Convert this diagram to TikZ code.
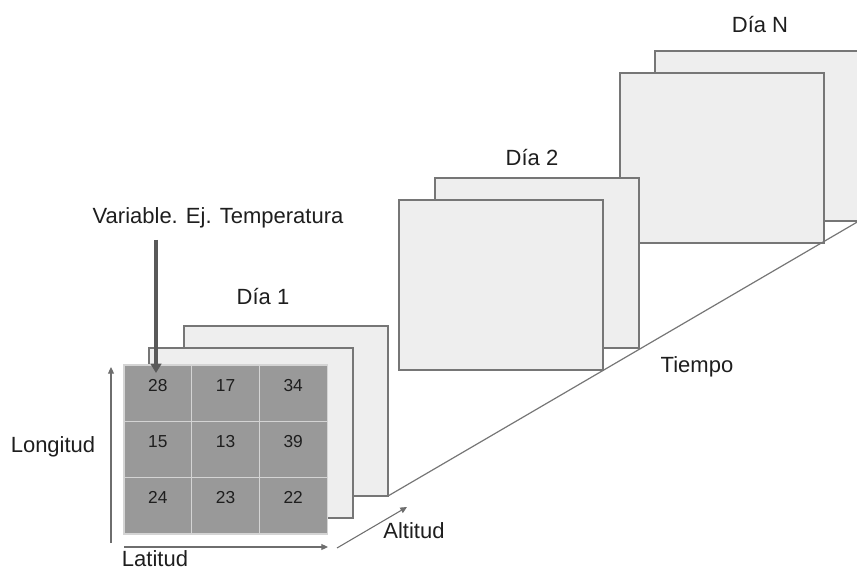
\documentclass[tikz,border=0pt]{standalone}
\usepackage{fontspec}
\setmainfont{Liberation Sans}
\usetikzlibrary{arrows.meta}
\definecolor{panefill}{HTML}{EEEEEE}
\definecolor{edgecol}{HTML}{767676}
\definecolor{cellfill}{HTML}{999999}
\definecolor{cellline}{HTML}{D4D4D4}
\definecolor{arrowdark}{HTML}{595959}
\definecolor{axiscol}{HTML}{6E6E6E}
\definecolor{txt}{HTML}{1E1E1E}
\begin{document}
\begin{tikzpicture}[x=0.75pt,y=-0.75pt,
  pane/.style={draw=edgecol, fill=panefill, line width=0.9pt, minimum width=153pt, minimum height=127.5pt, inner sep=0pt, outer sep=0pt, anchor=north west},
  cell/.style={draw=cellline, fill=cellfill, line width=0.8pt, minimum width=50.8pt, minimum height=42.2pt, inner sep=0pt, outer sep=0pt, anchor=north west, font=\fontsize{13}{15}\selectfont, text=txt, text height=8pt, text depth=10.8pt},
  lab/.style={anchor=base, inner sep=0pt, font=\fontsize{16.5}{19}\selectfont, text=txt},
  axisarrow/.style={draw=axiscol, line width=0.8pt, -{Triangle[width=4.5pt,length=5pt]}},
  thinline/.style={draw=edgecol, line width=0.9pt}
]
\useasboundingbox (0,0) rectangle (857,570);

% Dia N
\node[pane] (dNback) at (655,51) {};
\node[pane] (dNfront) at (620,73) {};
% Dia 2
\node[pane] (d2back) at (435,178) {};
\node[pane] (d2front) at (399,200) {};
% Dia 1
\node[pane] (d1back) at (184,326) {};
\node[pane] (d1mid) at (149,348) {};

% time line
\draw[thinline] (d1back.south east) -- (dNback.south east);

% grid
\node[cell] (c11) at (124,365) {28};
\node[cell] (c12) at (191.7,365) {17};
\node[cell] (c13) at (259.3,365) {34};
\node[cell] (c21) at (124,421.3) {15};
\node[cell] (c22) at (191.7,421.3) {13};
\node[cell] (c23) at (259.3,421.3) {39};
\node[cell] (c31) at (124,477.7) {24};
\node[cell] (c32) at (191.7,477.7) {23};
\node[cell] (c33) at (259.3,477.7) {22};

% labels
\node[lab] (varlab) at (218,224) {Variable. Ej. Temperatura};
\node[lab] (dia1) at (263,305) {Día 1};
\node[lab] (dia2) at (532,166) {Día 2};
\node[lab] (diaN) at (760,33) {Día N};
\node[lab] (tiempo) at (697,373) {Tiempo};
\node[lab] (longitud) at (53,452) {Longitud};
\node[lab] (latitud) at (155,566) {Latitud};
\node[lab] (altitud) at (414,538) {Altitud};

% variable arrow
\coordinate (varstart) at (156,240);
\coordinate (vartip) at (156,373);
\draw[draw=arrowdark, line width=2.6pt, -{Triangle[width=8pt,length=7pt]}] (varstart) -- (vartip);

% axes
\coordinate (lonA) at (111,543);
\coordinate (lonB) at (111,367);
\draw[axisarrow] (lonA) -- (lonB);
\coordinate (latA) at (124,547);
\coordinate (latB) at (328,547);
\draw[axisarrow] (latA) -- (latB);
\coordinate (altA) at (337,548);
\coordinate (altB) at (407,507);
\draw[axisarrow] (altA) -- (altB);
\end{tikzpicture}
\end{document}
